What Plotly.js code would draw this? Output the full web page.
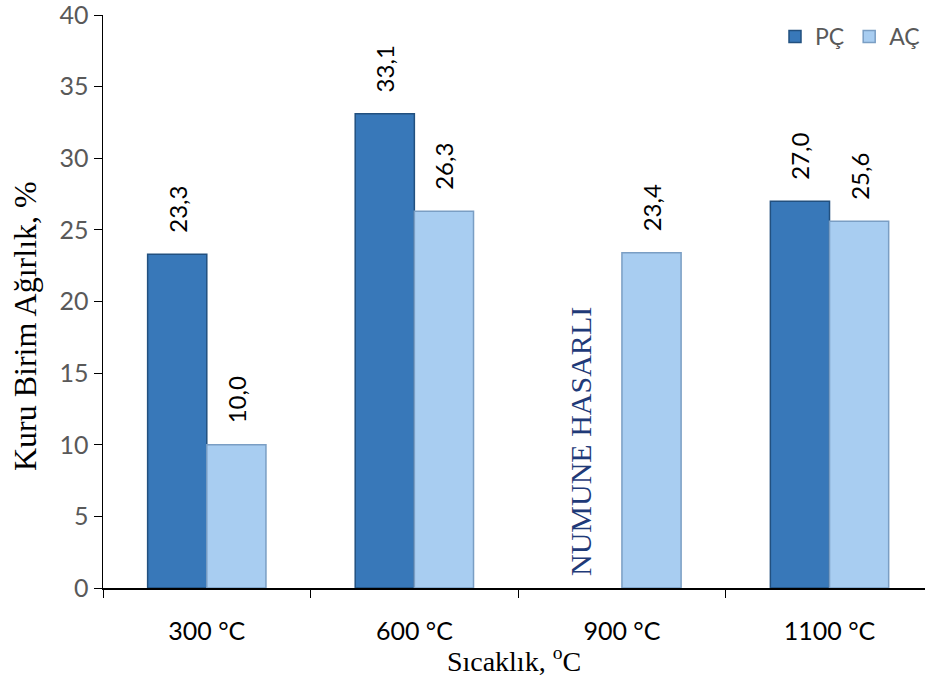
<!DOCTYPE html>
<html>
<head>
<meta charset="utf-8">
<script src="https://cdn.plot.ly/plotly-3.0.1.min.js"></script>
<style>html,body{margin:0;padding:0;background:#fff;}#chart{width:925px;height:677px;}</style>
</head>
<body>
<div id="chart"></div>
<script>
const categories = ['300 °C', '600 °C', '900 °C', '1100 °C'];
const pcValues = [23.3, 33.1, null, 27.0];
const acValues = [10.0, 26.3, 23.4, 25.6];
const pcLabels = ['23,3', '33,1', '', '27,0'];
const acLabels = ['10,0', '26,3', '23,4', '25,6'];
const seriesNames = ['PÇ', 'AÇ'];
const damagedNote = 'NUMUNE HASARLI';
const yTitle = 'Kuru Birim Ağırlık, %';
const xTitle = 'Sıcaklık, <sup>o</sup>C';

const pad = '\u00a0\u00a0\u00a0';
const labelFont = {family: 'Lato, "Open Sans", sans-serif', size: 24, color: '#000'};

const data = [
  {
    type: 'bar', name: seriesNames[0], x: categories, y: pcValues,
    text: pcLabels.map(t => t ? pad + t : ''), textposition: 'outside', textangle: -90,
    constraintext: 'none', cliponaxis: false,
    textfont: labelFont,
    marker: {color: '#3878b9', line: {color: '#22507f', width: 1.5}},
    hoverinfo: 'none'
  },
  {
    type: 'bar', name: seriesNames[1], x: categories, y: acValues,
    text: acLabels.map(t => t ? pad + t : ''), textposition: 'outside', textangle: -90,
    constraintext: 'none', cliponaxis: false,
    textfont: labelFont,
    marker: {color: '#a8cdf1', line: {color: '#7a9ec4', width: 1.5}},
    hoverinfo: 'none'
  }
];

const layout = {
  width: 925, height: 677,
  margin: {l: 103, r: 0, t: 15, b: 89},
  paper_bgcolor: '#fff', plot_bgcolor: '#fff',
  barmode: 'group', bargap: 0.43, bargroupgap: 0,
  showlegend: true,
  legend: {
    orientation: 'h', x: 1.0, xanchor: 'right', y: 1.0, yanchor: 'top',
    font: {family: 'Lato, "Open Sans", sans-serif', size: 23, color: '#595959'},
    itemwidth: 30, traceorder: 'normal', bgcolor: 'rgba(0,0,0,0)'
  },
  xaxis: {
    type: 'category', range: [-0.5, 3.46],
    showline: true, linecolor: '#000', linewidth: 1.5,
    ticks: 'outside', tickson: 'boundaries', ticklen: 8, tickcolor: '#000', tickwidth: 1,
    ticklabelstandoff: 20,
    showgrid: false, zeroline: false,
    tickfont: {family: 'Lato, "Open Sans", sans-serif', size: 25, color: '#000'},
    title: {text: xTitle, font: {family: '"Liberation Serif", "DejaVu Serif", serif', size: 28, color: '#000'}, standoff: 0}
  },
  yaxis: {
    range: [0, 40], dtick: 5,
    showline: true, linecolor: '#000', linewidth: 1.5,
    ticks: 'outside', ticklen: 8, tickcolor: '#000', tickwidth: 1,
    ticklabeloverflow: 'allow',
    showgrid: false, zeroline: false,
    tickfont: {family: 'Lato, "Open Sans", sans-serif', size: 25, color: '#595959'}
  },
  annotations: [
    {
      x: -0.095, y: 0.457, xref: 'paper', yref: 'paper', xanchor: 'center', yanchor: 'middle',
      text: yTitle, showarrow: false, textangle: -90,
      font: {family: '"Liberation Serif", "DejaVu Serif", serif', size: 32, color: '#000'}
    },
    {
      x: categories[2], y: 10.26, xref: 'x', yref: 'y', xshift: -42,
      text: damagedNote, showarrow: false, textangle: -90,
      font: {family: '"Liberation Serif", "DejaVu Serif", serif', size: 30, color: '#1f3a78'}
    }
  ]
};

Plotly.newPlot('chart', data, layout, {displayModeBar: false, staticPlot: true});
</script>
</body>
</html>
